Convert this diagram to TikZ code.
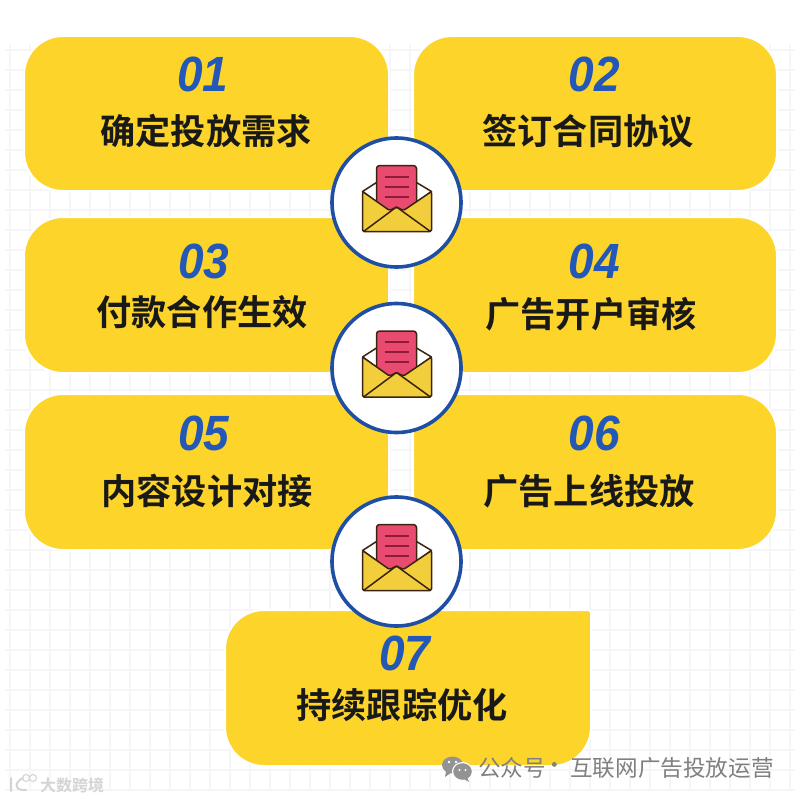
\documentclass[tikz,border=0pt]{standalone}
\usepackage{graphicx}
\usepackage{fontspec}
\newfontfamily\cjk{Noto Sans CJK SC}[BoldFont={Noto Sans CJK SC Bold}]
\newfontfamily\numfont{Liberation Sans}
\newcommand\numtxt[1]{\scalebox{.93}[1]{#1}}
\tikzset{
  x=1pt,y=-1pt,
  card/.style={fill=cardyellow,draw=white,line width=2pt,rounded corners=39pt},
  num/.style={font=\numfont\fontsize{49.5}{49.5}\selectfont\bfseries\itshape,text=numblue,inner sep=0pt,anchor=center},
  captext/.style={font=\cjk\fontsize{35.2}{35.2}\selectfont\bfseries,text=black!90,inner sep=0pt,anchor=center},
  ring/.style={circle,draw=ringblue,line width=3.6pt,fill=white,minimum size=129pt,inner sep=0pt},
  gridline/.style={draw=gridgray,line width=1.6pt},
  envline/.style={draw=envdark,line width=1.5pt,line join=round},
  marktext/.style={font=\cjk\fontsize{22.6}{22.6}\selectfont,text=markgray,inner sep=0pt},
  pics/envelope/.style={code={
    \fill[white,envline] (-34,-11) -- (-20,-20) -- (20,-20) -- (35,-11) -- (0,14) -- cycle;
    \draw[fill=letterpink,envline,rounded corners=3pt] (-20,20) -- (-20,-37) -- (20,-37) -- (20,20) -- cycle;
    \foreach \yy in {-26,-16,-6}{\draw[draw=letterline,line width=2pt] (-12,\yy) -- (12,\yy);}
    \draw[fill=envyellow,envline,rounded corners=1.5pt] (-34,-11) -- (-34,29) -- (35,29) -- (35,-11) -- (7,8) -- (0,4.5) -- (-7,8) -- cycle;
    \draw[envline] (-33,29) -- (0,4.5) -- (34,29);
  }}
}
\definecolor{cardyellow}{HTML}{FDD42A}
\definecolor{envyellow}{HTML}{F2CE3C}
\definecolor{numblue}{HTML}{2358B8}
\definecolor{ringblue}{HTML}{1E4FA5}
\definecolor{gridgray}{HTML}{F6F6F8}
\definecolor{envdark}{HTML}{3A2410}
\definecolor{letterpink}{HTML}{E84A70}
\definecolor{letterline}{HTML}{8E1A3C}
\definecolor{markgray}{HTML}{808080}
\definecolor{logogray}{HTML}{D4D4D4}
\begin{document}
\begin{tikzpicture}
\useasboundingbox (0,0) rectangle (800,800);
\fill[white] (0,0) rectangle (800,800);
% background grid
\foreach \gx in {10,30,...,790}{\draw[gridline] (\gx,45) -- (\gx,790);}
\foreach \gy in {50,70,...,790}{\draw[gridline] (5,\gy) -- (795,\gy);}
% cards
\draw[card] (24,36) rectangle (389,191);
\draw[card] (413,36) rectangle (777,191);
\draw[card] (24,217) rectangle (389,373);
\draw[card] (413,217) rectangle (777,373);
\draw[card] (24,394) rectangle (389,550);
\draw[card] (413,394) rectangle (777,550);
\draw[fill=cardyellow,draw=white,line width=2pt,rounded corners=3pt]
  (400,610) -- (591,610) [rounded corners=39pt] -- (591,766) -- (225,766) -- (225,610) -- cycle;
% numbers
\node[num] (n1) at (203,74) {\numtxt{01}};
\node[num] (n2) at (594,74) {\numtxt{02}};
\node[num] (n3) at (204,261) {\numtxt{03}};
\node[num] (n4) at (594,261) {\numtxt{04}};
\node[num] (n5) at (204,433) {\numtxt{05}};
\node[num] (n6) at (594,433) {\numtxt{06}};
\node[num] (n7) at (405,653) {\numtxt{07}};
% captions
\node[captext] (c1) at (206,131) {确定投放需求};
\node[captext] (c2) at (588,131) {签订合同协议};
\node[captext] (c3) at (202,312) {付款合作生效};
\node[captext] (c4) at (591,314) {广告开户审核};
\node[captext] (c5) at (207,491) {内容设计对接};
\node[captext] (c6) at (589,491) {广告上线投放};
\node[captext] (c7) at (402,705) {持续跟踪优化};
% rings with envelopes
\node[ring] (r1) at (396.5,202.5) {};
\node[ring] (r2) at (396.5,368) {};
\node[ring] (r3) at (396.5,561.5) {};
\pic at (r1.center) {envelope};
\pic at (r2.center) {envelope};
\pic at (r3.center) {envelope};
% watermarks
\fill[markgray!85] (452.5,765) ellipse[x radius=10.5,y radius=8.5];
\fill[markgray!85] (446,771) -- (445,777) -- (452,772) -- cycle;
\draw[markgray!85,fill=markgray!85,preaction={draw=white,line width=3pt}] (462.5,771.5) ellipse[x radius=9,y radius=8];
\fill[markgray!85] (467,777) -- (469,782) -- (462,778) -- cycle;
\fill[white] (449,762) circle[radius=1.3] (456,762) circle[radius=1.3] (459.5,770) circle[radius=1.1] (465.5,770) circle[radius=1.1];
\node[marktext,anchor=west] (wm1) at (478,768) {公众号};
\node[marktext,anchor=center] (wm2) at (555,768) {·};
\node[marktext,anchor=west] (wm3) at (570,768) {互联网广告投放运营};
\node[font=\cjk\fontsize{16}{16}\selectfont\bfseries,text=logogray,inner sep=0pt,anchor=west] (wl) at (40,785) {大数跨境};
\draw[logogray,line width=2pt,line cap=round] (11,778) -- (11,791) (23,778) .. controls (14,782) and (14,791) .. (26,790);
\draw[logogray,line width=1pt] (26,778) circle[radius=3.5] (33,778) circle[radius=3.5];
\end{tikzpicture}
\end{document}
